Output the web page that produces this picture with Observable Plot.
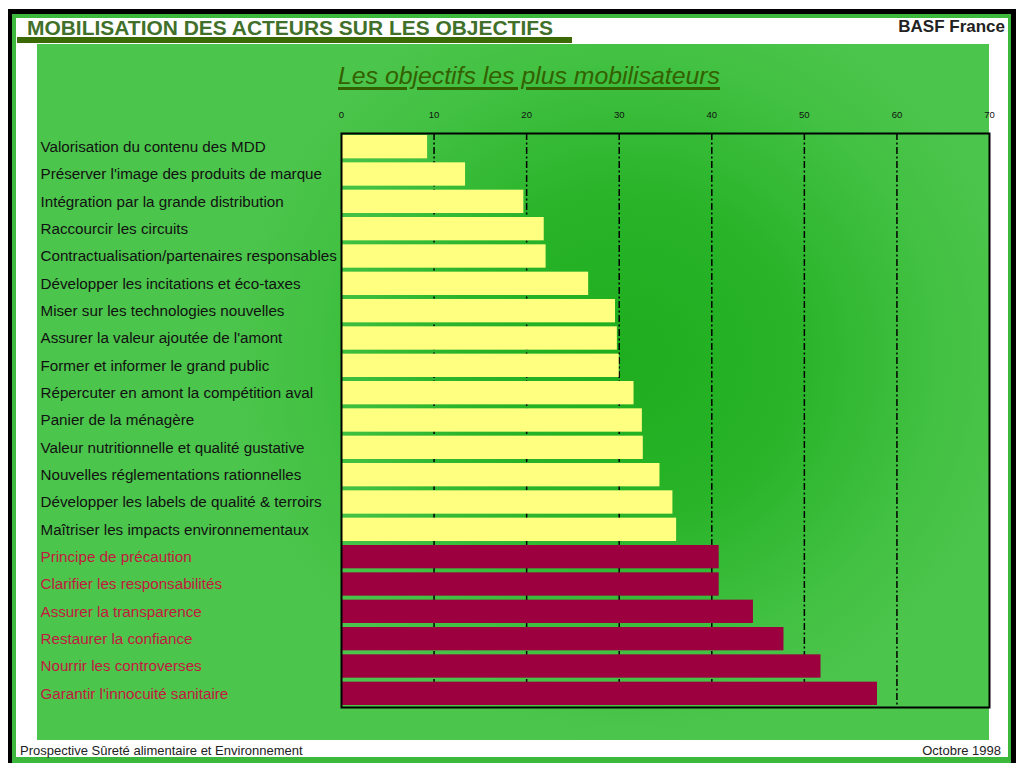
<!DOCTYPE html>
<html>
<head>
<meta charset="utf-8">
<script src="https://cdn.jsdelivr.net/npm/d3@7"></script>
<script src="https://cdn.jsdelivr.net/npm/@observablehq/plot@0.6"></script>
<style>
  html, body { margin: 0; padding: 0; background: #fff; }
  body { width: 1016px; height: 763px; position: relative; overflow: hidden; font-family: "Liberation Sans", Arial, sans-serif; }
  .abs { position: absolute; }
  #black { left: 8px; top: 9px; width: 1008px; height: 760px; background: #000; }
  #gline { left: 12px; top: 14px; width: 999px; height: 752px; background: #3cb83c; }
  #white { left: 16px; top: 18px; width: 992px; height: 739px; background: #fff; }
  #panel { left: 37px; top: 44px; width: 952px; height: 696px;
    background: radial-gradient(ellipse 42% 55% at 62% 45%, #1fae1f 0%, #28b328 40%, #42c142 78%, #4cc54c 100%); }
  #title { left: 27px; top: 17px; font-weight: bold; font-size: 20px; color: #41702a; white-space: nowrap;
    transform-origin: 0 0; }
  #titlebar { left: 17px; top: 37px; width: 555px; height: 6px; background: #3b6a04; }
  #basf { right: 11px; top: 17px; font-weight: bold; font-size: 17px; color: #222; white-space: nowrap; }
  #subtitle { left: 338px; top: 62px; font-style: italic; font-size: 24px; color: #336000;
    text-decoration: underline; text-decoration-thickness: 3px; text-underline-offset: 3px; white-space: nowrap;
    transform-origin: 0 0; }
  #foot1 { left: 20px; top: 743px; font-size: 13px; color: #222; white-space: nowrap; }
  #foot2 { right: 15px; top: 743px; font-size: 13px; color: #222; white-space: nowrap; }
  #chart { left: 0; top: 100px; }
</style>
</head>
<body>
<div class="abs" id="black"></div>
<div class="abs" id="gline"></div>
<div class="abs" id="white"></div>
<div class="abs" id="panel"></div>
<div class="abs" id="titlebar"></div>
<div class="abs" id="title">MOBILISATION DES ACTEURS SUR LES OBJECTIFS</div>
<div class="abs" id="basf">BASF France</div>
<div class="abs" id="subtitle">Les objectifs les plus mobilisateurs</div>
<div class="abs" id="chart"></div>
<div class="abs" id="foot1">Prospective Sûreté alimentaire et Environnement</div>
<div class="abs" id="foot2">Octobre 1998</div>
<script>
const categories = [
  "Valorisation du contenu des MDD",
  "Préserver l'image des produits de marque",
  "Intégration par la grande distribution",
  "Raccourcir les circuits",
  "Contractualisation/partenaires responsables",
  "Développer les incitations et éco-taxes",
  "Miser sur les technologies nouvelles",
  "Assurer la valeur ajoutée de l'amont",
  "Former et informer le grand public",
  "Répercuter en amont la compétition aval",
  "Panier de la ménagère",
  "Valeur nutritionnelle et qualité gustative",
  "Nouvelles réglementations rationnelles",
  "Développer les labels de qualité & terroirs",
  "Maîtriser les impacts environnementaux",
  "Principe de précaution",
  "Clarifier les responsabilités",
  "Assurer la transparence",
  "Restaurer la confiance",
  "Nourrir les controverses",
  "Garantir l'innocuité sanitaire"
];
const values = [9.3, 13.4, 19.7, 21.9, 22.1, 26.7, 29.6, 29.8, 30.0, 31.6, 32.5,
                32.6, 34.4, 35.8, 36.2, 40.8, 40.8, 44.5, 47.8, 51.8, 57.9];
const groups = ["A","A","A","A","A","A","A","A","A","A","A","A","A","A","A",
                "B","B","B","B","B","B"];
const xTicks = [0, 10, 20, 30, 40, 50, 60, 70];
const gridTicks = [10, 20, 30, 40, 50, 60];
const barColors = {A: "#ffff80", B: "#9c003f"};
const labelColors = {A: "#111111", B: "#c2183f"};

const data = categories.map((c, i) => ({category: c, value: values[i], group: groups[i]}));

const chart = Plot.plot({
  width: 1016,
  height: 620,
  marginLeft: 341,
  marginRight: 27,
  marginTop: 33,
  marginBottom: 13,
  style: {background: "transparent", fontFamily: "Liberation Sans, Arial, sans-serif", overflow: "visible"},
  x: {domain: [0, 70], axis: null, label: null},
  y: {domain: categories, axis: null, label: null, padding: 0, round: false},
  marks: [
    Plot.ruleX(gridTicks, {stroke: "#000", strokeWidth: 1.5, strokeDasharray: "7,2.5,2,2.5"}),
    Plot.barX(data, {x: "value", y: "category", insetTop: 2, insetBottom: 2, fill: d => barColors[d.group]}),
    Plot.frame({stroke: "#000", strokeWidth: 2}),
    Plot.axisX(xTicks, {anchor: "top", label: null, tickSize: 0, tickPadding: 16, fontSize: 9.5, fill: "#111", tickFormat: d => String(d)}),
    Plot.text(data, {y: "category", text: "category", frameAnchor: "left", textAnchor: "start", dx: -301,
      fontSize: 15.2, fill: d => labelColors[d.group]})
  ]
});
document.getElementById("chart").appendChild(chart);

// fit decorative header texts to the widths seen in the reference
function fitWidth(id, target) {
  const el = document.getElementById(id);
  const w = el.getBoundingClientRect().width;
  if (w > 0) el.style.transform = `scaleX(${target / w})`;
}
fitWidth("title", 526);
fitWidth("subtitle", 382);
</script>
</body>
</html>
